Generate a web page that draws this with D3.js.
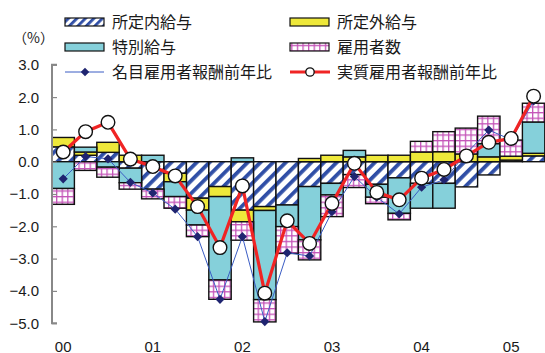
<!DOCTYPE html>
<html>
<head>
<meta charset="utf-8">
<script src="https://cdn.jsdelivr.net/npm/d3@7"></script>
<style>
  html, body { margin: 0; padding: 0; background: #fff; }
  svg { display: block; }
  text { font-family: "Liberation Sans", Arial, sans-serif; }
  .jp { font-family: "Noto Sans CJK JP", sans-serif; }
</style>
</head>
<body>
<svg id="chart" width="545" height="353"></svg>
<script>
// Quarters 2000Q1 .. 2005Q2
const quarters = ["00Q1","00Q2","00Q3","00Q4","01Q1","01Q2","01Q3","01Q4",
  "02Q1","02Q2","02Q3","02Q4","03Q1","03Q2","03Q3","03Q4",
  "04Q1","04Q2","04Q3","04Q4","05Q1","05Q2"];
const yearLabels = ["00","01","02","03","04","05"];
const yearStarts = ["00Q1","01Q1","02Q1","03Q1","04Q1","05Q1"];
const yTicks = [3,2,1,0,-1,-2,-3,-4,-5];

// Contributions (percentage points)
const scheduled = [0.46,0.2,0.29,-0.2,-0.85,-0.36,-1.13,-0.77,-1.5,-1.39,-1.34,-0.77,
  -0.67,-0.4,-0.7,-0.5,-0.67,-0.67,-0.78,-0.41,0.05,0.18];
const overtime = [0.29,0.1,0.31,0.2,0,-0.26,-0.37,-0.31,-0.36,-0.12,0,0.1,
  0.2,0.15,0.2,0.2,0.3,0.31,0.24,0.15,0.12,0.08];
const special = [-0.83,0.15,-0.17,-0.45,0.2,-0.46,-0.46,-2.58,0.12,-2.76,-0.67,-1.65,
  -0.36,0.2,-0.4,-1.1,-0.77,-0.77,0,0.41,0,0.97];
const employees = [-0.49,-0.27,-0.31,-0.2,-0.3,-0.36,-0.36,-0.6,-0.57,-0.69,-0.83,-0.62,
  -0.67,-0.4,-0.2,-0.2,0.33,0.62,0.8,0.85,0.5,0.58];

// Year-on-year change of compensation of employees (%)
const nominal = [-0.53,0.16,0.09,-0.64,-0.97,-1.47,-2.32,-4.26,-2.32,-4.95,-2.82,-2.92,
  -1.55,-0.46,-1.1,-1.62,-0.79,-0.56,0.26,0.98,0.68,1.88];
const real = [0.3,0.93,1.22,0.08,-0.15,-0.44,-1.39,-2.66,-0.75,-4.07,-1.83,-2.53,
  -1.29,-0.05,-0.95,-1.18,-0.51,-0.24,0.18,0.6,0.72,2.03];

const seriesKeys = ["scheduled","overtime","special","employees"];
const seriesNames = {scheduled:"所定内給与", overtime:"所定外給与", special:"特別給与", employees:"雇用者数"};

const table = quarters.map((q,i) => ({
  q, scheduled: scheduled[i], overtime: overtime[i], special: special[i], employees: employees[i]
}));

const svg = d3.select("#chart");
const defs = svg.append("defs");

// diagonal blue hatch
const hatch = defs.append("pattern").attr("id","hatch").attr("patternUnits","userSpaceOnUse")
  .attr("width",9).attr("height",9).attr("patternTransform","rotate(45)");
hatch.append("rect").attr("width",9).attr("height",9).attr("fill","#ffffff");
hatch.append("rect").attr("x",0).attr("width",3.8).attr("height",9).attr("fill","#2f4ea6");

// smaller hatch for legend swatch
const hatchS = defs.append("pattern").attr("id","hatchS").attr("patternUnits","userSpaceOnUse")
  .attr("width",6).attr("height",6).attr("patternTransform","rotate(45)");
hatchS.append("rect").attr("width",6).attr("height",6).attr("fill","#ffffff");
hatchS.append("rect").attr("x",0).attr("width",2.8).attr("height",6).attr("fill","#2f4ea6");

// magenta grid
const grid = defs.append("pattern").attr("id","grid").attr("patternUnits","userSpaceOnUse")
  .attr("width",5.6).attr("height",5.6);
grid.append("rect").attr("width",5.6).attr("height",5.6).attr("fill","#c454b8");
grid.append("rect").attr("x",1.3).attr("y",1.3).attr("width",4.3).attr("height",4.3).attr("fill","#ffffff");

const fills = {scheduled:"url(#hatch)", overtime:"#eee83a", special:"#85d0da", employees:"url(#grid)"};
const legendFills = Object.assign({}, fills, {scheduled:"url(#hatchS)"});

const x = d3.scaleBand().domain(quarters).range([52, 544.8]).padding(0);
const y = d3.scaleLinear().domain([-5, 3]).range([323.2, 64.8]);

const stack = d3.stack().keys(seriesKeys).offset(d3.stackOffsetDiverging);
const layers = stack(table);

// bars
svg.append("g").selectAll("g").data(layers).join("g")
  .attr("fill", d => fills[d.key])
  .selectAll("rect").data(d => d.map(v => ({v, q: v.data.q}))).join("rect")
  .filter(d => Math.abs(d.v[1]-d.v[0]) > 1e-9)
  .attr("x", d => x(d.q))
  .attr("width", x.bandwidth())
  .attr("y", d => y(Math.max(d.v[0], d.v[1])))
  .attr("height", d => Math.abs(y(d.v[0]) - y(d.v[1])))
  .attr("stroke","#111").attr("stroke-width",1.4);

// y axis
const axisG = svg.append("g").attr("transform","translate(52,0)")
  .call(d3.axisRight(y).tickValues(yTicks).tickSize(5).tickFormat(""));
axisG.select(".domain").attr("stroke","#888").attr("stroke-width",2)
  .attr("d", `M5,${y(3)}H0V${y(-5)}H5`);
axisG.selectAll(".tick line").attr("stroke","#888").attr("stroke-width",1.2);

svg.append("g").selectAll("text").data(yTicks).join("text")
  .attr("x", 39).attr("y", d => y(d)).attr("dy","0.36em")
  .attr("text-anchor","end").attr("font-size",15).attr("fill","#1a1a1a")
  .text(d => (d < 0 ? "\u2212" : "") + Math.abs(d).toFixed(1));

svg.append("text").attr("class","jp").attr("x",13).attr("y",43)
  .attr("font-size",14).attr("fill","#1a1a1a").text("（%）");

// year labels
svg.append("g").selectAll("text").data(yearLabels).join("text")
  .attr("x", (d,i) => x(yearStarts[i]) + x.bandwidth()/2)
  .attr("y", 351.5).attr("text-anchor","middle").attr("font-size",15).attr("fill","#1a1a1a")
  .text(d => d);

// lines
const cx = (d,i) => x(quarters[i]) + x.bandwidth()/2;
svg.append("path").datum(nominal)
  .attr("fill","none").attr("stroke","#3a5cc4").attr("stroke-width",1)
  .attr("d", d3.line().x(cx).y(d => y(d)));
svg.append("path").datum(real)
  .attr("fill","none").attr("stroke","#f02424").attr("stroke-width",3.2)
  .attr("d", d3.line().x(cx).y(d => y(d)));

svg.append("g").selectAll("path").data(nominal).join("path")
  .attr("transform", (d,i) => `translate(${cx(d,i)},${y(d)}) rotate(45)`)
  .attr("d", d3.symbol().type(d3.symbolSquare).size(42))
  .attr("fill","#1f2470");

svg.append("g").selectAll("circle").data(real).join("circle")
  .attr("cx", cx).attr("cy", d => y(d)).attr("r", 6.8)
  .attr("fill","#fff").attr("stroke","#111").attr("stroke-width",1.4);

// legend
const leg = svg.append("g");
const legItems = [
  {key:"scheduled", col:0, row:0},
  {key:"overtime", col:1, row:0},
  {key:"special", col:0, row:1},
  {key:"employees", col:1, row:1}
];
const colX = [65, 290], rowY = [22, 47, 72];
legItems.forEach(it => {
  leg.append("rect").attr("x", colX[it.col]).attr("y", rowY[it.row]-4)
    .attr("width",39).attr("height",8).attr("fill", legendFills[it.key])
    .attr("stroke","#111").attr("stroke-width",1.2);
  leg.append("text").attr("class","jp").attr("x", colX[it.col]+47).attr("y", rowY[it.row])
    .attr("dy","0.36em").attr("font-size",16).attr("fill","#1a1a1a").text(seriesNames[it.key]);
});
// nominal line legend
leg.append("line").attr("x1",65).attr("x2",104).attr("y1",rowY[2]).attr("y2",rowY[2])
  .attr("stroke","#3a5cc4").attr("stroke-width",1);
leg.append("path").attr("transform",`translate(85,${rowY[2]}) rotate(45)`)
  .attr("d", d3.symbol().type(d3.symbolSquare).size(36)).attr("fill","#1f2470");
leg.append("text").attr("class","jp").attr("x",112).attr("y",rowY[2]).attr("dy","0.36em")
  .attr("font-size",16).attr("fill","#1a1a1a").text("名目雇用者報酬前年比");
// real line legend
leg.append("line").attr("x1",290).attr("x2",330).attr("y1",rowY[2]).attr("y2",rowY[2])
  .attr("stroke","#f02424").attr("stroke-width",3);
leg.append("circle").attr("cx",310).attr("cy",rowY[2]).attr("r",4.2)
  .attr("fill","#fff").attr("stroke","#111").attr("stroke-width",1.3);
leg.append("text").attr("class","jp").attr("x",337).attr("y",rowY[2]).attr("dy","0.36em")
  .attr("font-size",16).attr("fill","#1a1a1a").text("実質雇用者報酬前年比");
</script>
</body>
</html>
